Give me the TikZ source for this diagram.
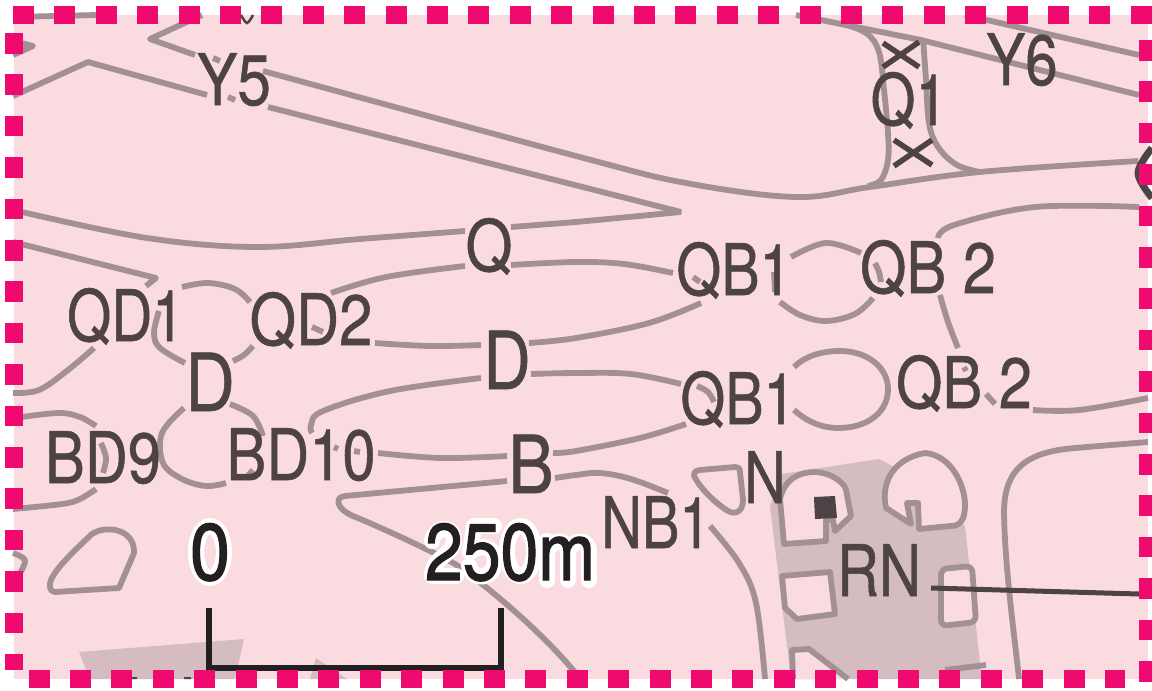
\documentclass[tikz,border=0pt]{standalone}
\usepackage{fontspec}
\setmainfont{TeX Gyre Heros}
\newfontfamily\labfont[FakeBold=0.8]{TeX Gyre Heros}
\newfontfamily\scalefont[FakeBold=1.6]{TeX Gyre Heros}
\definecolor{bgpink}{HTML}{FADCE0}
\definecolor{dashpink}{HTML}{EE0A6E}
\definecolor{road}{HTML}{A29095}
\definecolor{dark}{HTML}{4D4345}
\definecolor{bldg}{HTML}{D5BCC1}
\definecolor{scalek}{HTML}{231F20}
\tikzset{
  x=1pt,y=-1pt,
  rd/.style={draw=road,line width=5.8pt,line join=round},
  inner/.style={draw=road,fill=bgpink,line width=5.8pt,line join=round},
  lab/.style={text=dark,inner sep=0pt,anchor=base,transform shape,font=\labfont\fontsize{71}{71}\selectfont},
  labbig/.style={text=dark,inner sep=0pt,anchor=base,transform shape,font=\labfont\fontsize{80}{80}\selectfont},
  sclab/.style={text=scalek,inner sep=0pt,anchor=base,transform shape,font=\scalefont\fontsize{80}{80}\selectfont},
  halo/.style={draw=white,line width=16pt,line join=round,line cap=round}
}
\newcommand{\cv}[1]{plot[smooth,tension=.6] coordinates {#1}}
\begin{document}
\begin{tikzpicture}
\useasboundingbox (0,0) rectangle (1152,691);
\fill[white] (0,0) rectangle (1152,691);
\fill[bgpink] (14,15) rectangle (1148,679);
% buildings
\fill[bldg] (782,474) -- (879,459) -- (896,468) -- (965,526) -- (980,663) -- (982,679) -- (791,679) -- (770,506) -- cycle;
\fill[bldg] (79,652) -- (244,639) -- (235,679) -- (90,679) -- cycle;
\fill[bldg] (316,658) -- (347,679) -- (310,679) -- cycle;
% roads top
\draw[rd] (13,17) -- (96,15);
\draw[rd] (202,15) -- (150,39) -- (195,55);
\draw[rd] (213,58) -- (220,61);
\draw[rd] \cv{(263,71) (576,156) (686,183) (796,197) (870,187) (980,172) (1138,161)};
\draw[rd] (13,41) -- (33,46) -- (13,55);
\draw[rd] (13,96) -- (88,62) -- (207,95);
\draw[rd] (228,97) -- (235,100);
\draw[rd,line join=bevel] (268,107) -- (681,212) -- (576,222) -- (511,227);
\draw[rd] \cv{(465,231) (360,239) (257,247) (147,238) (22,212)};
\draw[rd] (13,242) -- (156,278) -- (146,286);
% Q1 junction
\draw[rd] (796,15) -- (921,40) -- (1139,95);
\draw[rd] (965,15) -- (1139,55);
\draw[rd] \cv{(840,23) (866,33) (879,52) (884,90) (888,133) (888,160) (881,180) (868,186)};
\draw[rd] \cv{(923,38) (926,80) (929,123) (938,147) (957,165) (980,172)};
% QD bubble
\draw[rd] \cv{(182,287) (208,283) (235,289) (250,302)};
\draw[rd] \cv{(159,311) (154,333) (160,348) (185,363)};
\draw[rd] \cv{(253,346) (244,355) (233,361)};
\draw[rd] \cv{(312,327) (323,332)};
\draw[rd] \cv{(375,343) (430,346) (481,345)};
\draw[rd] \cv{(529,343) (576,338) (649,323) (701,303)};
\draw[rd] \cv{(331,293) (386,277) (465,266)};
\draw[rd] \cv{(511,265) (576,262) (624,264) (673,273)};
\draw[rd] (693,277) -- (700,282);
% QB bubble upper
\draw[rd] \cv{(791,257) (826,243) (861,253)};
\draw[rd] (774,272) -- (775,292);
\draw[rd] \cv{(780,302) (800,315) (826,321) (855,314) (873,298)};
\draw[rd] \cv{(875,263) (879,272) (881,282)};
% QB2 lines
\draw[rd] \cv{(938,238) (954,225) (1035,207) (1139,207)};
\draw[rd] \cv{(940,295) (948,322) (958,348)};
\draw[rd] (964,367) -- (966,371);
\draw[rd] (986,394) -- (995,404);
\draw[rd] \cv{(1033,410) (1079,410) (1148,398)};
% QB bubble lower
\draw[rd] (794,367) .. controls (805,356) and (822,351) .. (840,351) .. controls (868,351) and (888,368) .. (888,389) .. controls (888,412) and (868,428) .. (838,428) .. controls (820,428) and (805,420) .. (794,410);
% left lower
\draw[rd] \cv{(13,393) (39,390) (68,370) (94,348)};
\draw[rd] \cv{(22,417) (59,413) (80,417) (96,426)};
\draw[rd] \cv{(13,509) (62,504) (80,499) (96,489)};
\draw[rd] \cv{(101,443) (106,458) (103,473)};
\draw[rd] \cv{(184,408) (162,433) (163,463) (182,479) (206,486) (226,483)};
\draw[rd] \cv{(230,404) (253,416) (263,436)};
\draw[rd] (253,470) -- (246,478);
% BD10 lines
\draw[rd] \cv{(312,433) (311,425) (323,411) (390,391) (481,378)};
\draw[rd] \cv{(531,374) (576,373) (631,374) (681,384)};
\draw[rd] \cv{(697,386) (708,392) (714,402)};
\draw[rd] \cv{(378,453) (441,458) (507,456)};
\draw[rd] (334,447) -- (338,449);
\draw[rd] (354,451) -- (360,452);
\draw[rd] \cv{(553,453) (576,451) (640,438) (686,424)};
% NB loop
\draw[rd] (507,481) -- (345,496) .. controls (335,497) and (335,508) .. (353,516) .. controls (380,527) and (430,550) .. (455,564) .. controls (490,588) and (545,635) .. (578,676);
\draw[rd] \cv{(555,478) (576,475) (600,473) (631,479) (668,493)};
\draw[rd] \cv{(710,526) (739,563) (756,603) (765,679)};
\draw[rd] (1148,442) -- (1075,448) .. controls (1025,452) and (1004,470) .. (1004,513) .. controls (1005,570) and (1015,640) .. (1019,679);
\draw[rd] (945,670) -- (986,665);
% triangle by N
\filldraw[inner] (694,476) .. controls (694,471) and (697,470) .. (700,470) -- (735,467) .. controls (738,467) and (740,468) .. (740,472) -- (743,500) .. controls (743,512) and (735,515) .. (728,511) .. controls (715,503) and (700,488) .. (694,476) -- cycle;
% block shapes
\filldraw[inner] (784,544) -- (780,499) .. controls (785,478) and (800,472) .. (815,472) .. controls (835,473) and (846,486) .. (846,490) -- (851,516) -- (835,531) -- (833,520) -- (826,520) -- (826,541) -- cycle;
\filldraw[inner] (886,508) .. controls (880,480) and (896,458) .. (925,453) .. controls (951,455) and (965,485) .. (965,505) .. controls (965,520) and (960,526) .. (951,526) -- (919,529) -- (918,503) -- (907,503) -- (911,524) -- cycle;
\filldraw[inner] (782,576) -- (830,572) -- (835,614) -- (797,619) -- (785,608) -- cycle;
\filldraw[inner,rounded corners=6pt] (941,569) -- (972,566) -- (976,622) -- (941,626) -- cycle;
\filldraw[inner] (793,679) -- (792,650) -- (809,649) -- (848,679);
\fill[dark] (814,497) -- (835,496) -- (837,518) -- (815,519) -- cycle;
% islands
\filldraw[inner] (50,586) .. controls (48,575) and (75,550) .. (92,534) .. controls (105,525) and (135,528) .. (134,553) -- (119,588) -- (55,592) .. controls (52,592) and (50,590) .. (50,586) -- cycle;
\draw[rd] \cv{(13,553) (25,560) (20,573)};
% leader, crosses
\draw[draw=dark,line width=5pt] (931,588) -- (1139,594);
\draw[draw=dark,line width=5.5pt] (883,43) -- (919,67) (883,67) -- (919,42) (894,140) -- (932,165) (894,166) -- (932,140);
% cropped dark glyph parts
\draw[draw=dark,line width=7pt] \cv{(1152,148) (1138,173) (1152,198)};
\draw[draw=dark,line width=2.5pt] \cv{(241,15) (247,23) (253,15)};
\fill[dark] (130,677) rectangle (137,679) (184,677) rectangle (191,679);
% scale
\draw[halo] (210,552) ellipse [x radius=14,y radius=26];
\draw[halo] (432,541) .. controls (434,526) and (454,524) .. (454,540) .. controls (454,556) and (432,556) .. (432,576) -- (456,576);
\draw[halo] (494,526) -- (474,526) -- (470,552) .. controls (482,542) and (495,548) .. (495,560) .. controls (495,580) and (472,582) .. (469,566);
\draw[halo] (520.5,551) ellipse [x radius=13.5,y radius=25];
\draw[halo] (547,541) -- (547,580) (547,552) .. controls (552,538) and (568,538) .. (568,552) -- (568,580) (568,552) .. controls (573,538) and (589,538) .. (589,552) -- (589,580);
\draw[draw=scalek,line width=6pt,line join=miter] (209,608) -- (209,668) -- (501,668) -- (501,608);
\node[sclab,xscale=.9] (zero) at (210,580) {0};
\node[sclab,xscale=.85] (twofifty) at (510,580) {250m};
% labels
\node[lab,xscale=.85] (y5) at (234,105) {Y5};
\node[lab,xscale=.82] (y6) at (1022,85) {Y6};
\node[lab,xscale=.81] (q1) at (909,125) {Q1};
\node[lab,xscale=.85] (q) at (489,271) {Q};
\node[lab,xscale=.81] (qb1a) at (734,295) {QB1};
\node[lab,xscale=.84] (qb2a) at (928,293) {QB 2};
\node[lab,xscale=.80] (qd1) at (125.5,341) {QD1};
\node[lab,xscale=.84] (qd2) at (311,345) {QD2};
\node[labbig,xscale=.86] (d1) at (210,411) {D};
\node[labbig,xscale=.82] (d2) at (507,389) {D};
\node[labbig,xscale=.85] (b) at (531,493) {B};
\node[lab,xscale=.81] (qb1b) at (738,424) {QB1};
\node[lab,xscale=.84] (qb2b) at (964,408) {QB 2};
\node[lab,xscale=.84] (bd9) at (103,483) {BD9};
\node[lab,xscale=.84] (bd10) at (301,480) {BD10};
\node[lab,xscale=.81] (n) at (765,503) {N};
\node[lab,xscale=.79] (nb1) at (656,548) {NB1};
\node[lab,xscale=.82] (rn) at (879,596) {RN};
% dashed frame
\begin{scope}[line width=18pt]
\draw[dashpink,dash pattern=on 21pt off 20.4pt] (13,15) -- (1152,15);
\draw[dashpink,dash pattern=on 20.6pt off 20.8pt] (14,33) -- (14,670);
\draw[dashpink,dash pattern=on 20.6pt off 20.8pt] (1148,40) -- (1148,682);
\draw[dashpink,dash pattern=on 21pt off 20.4pt] (28.6,679) -- (1125,679);
\end{scope}
\end{tikzpicture}
\end{document}
